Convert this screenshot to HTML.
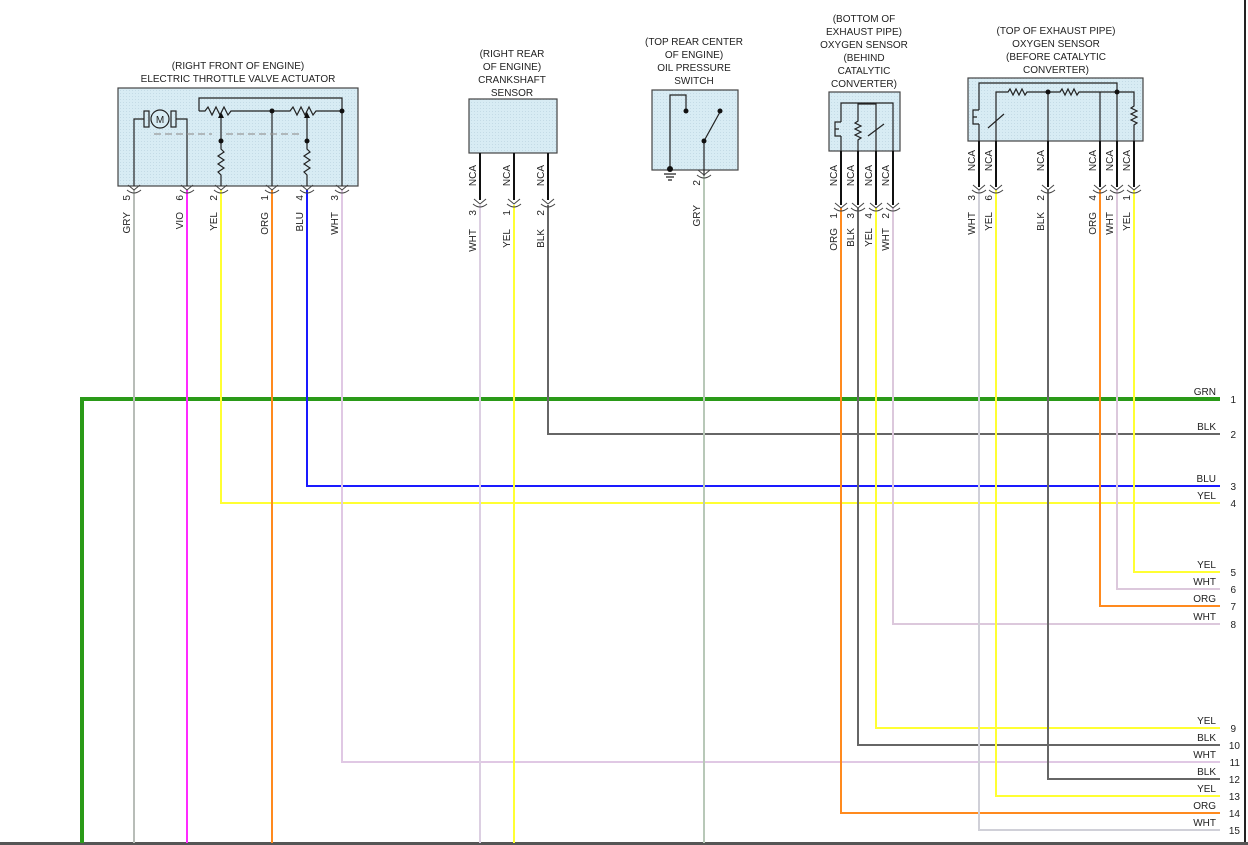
<!DOCTYPE html>
<html><head><meta charset="utf-8"><style>
html,body{margin:0;padding:0;background:#fff}
svg{display:block}
text{font-family:"Liberation Sans",sans-serif;font-size:10px;fill:#222}
</style></head><body>
<svg width="1248" height="845" viewBox="0 0 1248 845" xmlns="http://www.w3.org/2000/svg">
<defs>
<pattern id="dots" width="3" height="3" patternUnits="userSpaceOnUse"><rect width="3" height="3" fill="#d8ecf4"/><rect width="1" height="1" fill="#c4dbe6"/></pattern>
</defs>
<rect x="0" y="0" width="1248" height="845" fill="#fff"/>
<line x1="1245" y1="0" x2="1245" y2="845" stroke="#222" stroke-width="2"/>
<line x1="0" y1="843.5" x2="1248" y2="843.5" stroke="#555" stroke-width="3"/>

<!-- wires -->
<g fill="none" stroke-width="2">
<path d="M82 843V399H1220" stroke="#2a9a18" stroke-width="4"/>
<path d="M134 190V843" stroke="#b8bdb8"/>
<path d="M187 190V843" stroke="#ff2aff"/>
<path d="M221 190V503H1220" stroke="#ffff33"/>
<path d="M272 190V843" stroke="#ff8a1e"/>
<path d="M307 190V486H1220" stroke="#1a1aff"/>
<path d="M342 190V762H1220" stroke="#e0c8e4"/>
<path d="M480 205V843" stroke="#dccfe2"/>
<path d="M514 205V843" stroke="#ffff33"/>
<path d="M548 205V434H1220" stroke="#666"/>
<path d="M704 176V843" stroke="#b8c8b8"/>
<path d="M841 208V813H1220" stroke="#ff8a1e"/>
<path d="M858 208V745H1220" stroke="#666"/>
<path d="M876 208V728H1220" stroke="#ffff33"/>
<path d="M893 208V624H1220" stroke="#dcc8dc"/>
<path d="M979 190V830H1220" stroke="#d0d0d8"/>
<path d="M996 190V796H1220" stroke="#ffff33"/>
<path d="M1048 190V779H1220" stroke="#666"/>
<path d="M1100 190V606H1220" stroke="#ff8a1e"/>
<path d="M1117 190V589H1220" stroke="#dcc8dc"/>
<path d="M1134 190V572H1220" stroke="#ffff33"/>
</g>

<!-- right labels -->
<g text-anchor="end">
<text x="1216" y="395">GRN</text><text x="1236" y="403">1</text>
<text x="1216" y="430">BLK</text><text x="1236" y="438">2</text>
<text x="1216" y="482">BLU</text><text x="1236" y="490">3</text>
<text x="1216" y="499">YEL</text><text x="1236" y="507">4</text>
<text x="1216" y="568">YEL</text><text x="1236" y="576">5</text>
<text x="1216" y="585">WHT</text><text x="1236" y="593">6</text>
<text x="1216" y="602">ORG</text><text x="1236" y="610">7</text>
<text x="1216" y="620">WHT</text><text x="1236" y="628">8</text>
<text x="1216" y="724">YEL</text><text x="1236" y="732">9</text>
<text x="1216" y="741">BLK</text><text x="1240" y="749">10</text>
<text x="1216" y="758">WHT</text><text x="1240" y="766">11</text>
<text x="1216" y="775">BLK</text><text x="1240" y="783">12</text>
<text x="1216" y="792">YEL</text><text x="1240" y="800">13</text>
<text x="1216" y="809">ORG</text><text x="1240" y="817">14</text>
<text x="1216" y="826">WHT</text><text x="1240" y="834">15</text>
</g>

<!-- component titles -->
<g text-anchor="middle">
<text x="238" y="69">(RIGHT FRONT OF ENGINE)</text>
<text x="238" y="82">ELECTRIC THROTTLE VALVE ACTUATOR</text>
<text x="512" y="57">(RIGHT REAR</text>
<text x="512" y="70">OF ENGINE)</text>
<text x="512" y="83">CRANKSHAFT</text>
<text x="512" y="96">SENSOR</text>
<text x="694" y="45">(TOP REAR CENTER</text>
<text x="694" y="58">OF ENGINE)</text>
<text x="694" y="71">OIL PRESSURE</text>
<text x="694" y="84">SWITCH</text>
<text x="864" y="22">(BOTTOM OF</text>
<text x="864" y="35">EXHAUST PIPE)</text>
<text x="864" y="48">OXYGEN SENSOR</text>
<text x="864" y="61">(BEHIND</text>
<text x="864" y="74">CATALYTIC</text>
<text x="864" y="87">CONVERTER)</text>
<text x="1056" y="34">(TOP OF EXHAUST PIPE)</text>
<text x="1056" y="47">OXYGEN SENSOR</text>
<text x="1056" y="60">(BEFORE CATALYTIC</text>
<text x="1056" y="73">CONVERTER)</text>
</g>

<!-- boxes -->
<g stroke="#444" stroke-width="1.2" fill="url(#dots)">
<rect x="118" y="88" width="240" height="98"/>
<rect x="469" y="99" width="88" height="54"/>
<rect x="652" y="90" width="86" height="80"/>
<rect x="829" y="92" width="71" height="59"/>
<rect x="968" y="78" width="175" height="63"/>
</g>

<!-- throttle internals -->
<g fill="none" stroke="#222" stroke-width="1.2">
<path d="M134 186V119H144M176 119H187V186"/>
<rect x="144" y="111" width="5" height="16"/><rect x="171" y="111" width="5" height="16"/>
<path d="M199 111V98H342V186"/>
<path d="M199 111H205l3-4 4 8 4-8 4 8 4-8 4 8 3-4H272H290l3-4 4 8 4-8 4 8 4-8 4 8 3-4H342"/>
<path d="M272 111V186"/>
<path d="M221 116V149l3 3-6 4 6 4-6 4 6 4-6 4 3 3V186"/>
<path d="M307 116V149l3 3-6 4 6 4-6 4 6 4-6 4 3 3V186"/>
<path d="M154 134H212M226 134H300" stroke="#999" stroke-dasharray="7,4"/>
</g>
<circle cx="160" cy="119" r="9" fill="#d8ecf4" stroke="#222" stroke-width="1.2"/>
<text x="160" y="123" text-anchor="middle" font-size="12">M</text>
<g fill="#111">
<circle cx="272" cy="111" r="2.5"/><circle cx="342" cy="111" r="2.5"/>
<circle cx="221" cy="141" r="2.5"/><circle cx="307" cy="141" r="2.5"/>
<path d="M221 112l-3 6h6z"/><path d="M307 112l-3 6h6z"/>
</g>

<!-- oil switch internals -->
<g fill="none" stroke="#222" stroke-width="1.2">
<path d="M670 170V95H686V110"/><path d="M704 176V141L720 112"/>
<path d="M664 174h12M666 177h8M668 180h4"/>
</g>
<g fill="#111"><circle cx="686" cy="111" r="2.5"/><circle cx="720" cy="111" r="2.5"/><circle cx="704" cy="141" r="2.5"/><circle cx="670" cy="169" r="3"/></g>

<!-- bottom O2 internals -->
<g fill="none" stroke="#222" stroke-width="1.2">
<path d="M841 205V136M841 122V103H893V205"/>
<path d="M841 136h-6v-14h6M835 129h4"/>
<path d="M858 205V140l3-2-6-3 6-3-6-3 6-3-6-3 3-2V104H876V205"/>
<path d="M868 136l16-12"/>
</g>
<!-- top O2 internals -->
<g fill="none" stroke="#222" stroke-width="1.2">
<path d="M979 187V124M979 110V83H1117V187"/>
<path d="M979 124h-6v-14h6M973 117h4"/>
<path d="M996 187V92H1008l2-3 3 6 3-6 3 6 3-6 3 6 2-3H1060l2-3 3 6 3-6 3 6 3-6 3 6 2-3H1134V106l-3 2 6 3-6 3 6 3-6 3 6 3-3 2V187"/>
<path d="M1048 92V187M1100 92V187"/>
<path d="M988 128l16-14"/>
</g>
<g fill="#111"><circle cx="1048" cy="92" r="2.5"/><circle cx="1117" cy="92" r="2.5"/></g>

<!-- black NCA stubs -->
<g stroke="#111" stroke-width="2">
<path d="M480 153V200M514 153V200M548 153V200"/>
<path d="M841 151V205M858 151V205M876 151V205M893 151V205"/>
<path d="M979 141V187M996 141V187M1048 141V187M1100 141V187M1117 141V187M1134 141V187"/>
</g>

<!-- connector symbols -->
<g fill="none" stroke="#444" stroke-width="1">
<path d="M128 185l6 5 6-5M127 190q7 6 14 0M181 185l6 5 6-5M180 190q7 6 14 0M215 185l6 5 6-5M214 190q7 6 14 0M266 185l6 5 6-5M265 190q7 6 14 0M301 185l6 5 6-5M300 190q7 6 14 0M336 185l6 5 6-5M335 190q7 6 14 0"/>
<path d="M474 199l6 5 6-5M473 204q7 6 14 0M508 199l6 5 6-5M507 204q7 6 14 0M542 199l6 5 6-5M541 204q7 6 14 0"/>
<path d="M698 170l6 5 6-5M697 175q7 6 14 0"/>
<path d="M835 203l6 5 6-5M834 208q7 6 14 0M852 203l6 5 6-5M851 208q7 6 14 0M870 203l6 5 6-5M869 208q7 6 14 0M887 203l6 5 6-5M886 208q7 6 14 0"/>
<path d="M973 185l6 5 6-5M972 190q7 6 14 0M990 185l6 5 6-5M989 190q7 6 14 0M1042 185l6 5 6-5M1041 190q7 6 14 0M1094 185l6 5 6-5M1093 190q7 6 14 0M1111 185l6 5 6-5M1110 190q7 6 14 0M1128 185l6 5 6-5M1127 190q7 6 14 0"/>
</g>

<!-- rotated labels -->
<g text-anchor="end">
<!-- throttle -->
<text transform="translate(130,195) rotate(-90)">5</text><text transform="translate(130,212) rotate(-90)">GRY</text>
<text transform="translate(183,195) rotate(-90)">6</text><text transform="translate(183,212) rotate(-90)">VIO</text>
<text transform="translate(217,195) rotate(-90)">2</text><text transform="translate(217,212) rotate(-90)">YEL</text>
<text transform="translate(268,195) rotate(-90)">1</text><text transform="translate(268,212) rotate(-90)">ORG</text>
<text transform="translate(303,195) rotate(-90)">4</text><text transform="translate(303,212) rotate(-90)">BLU</text>
<text transform="translate(338,195) rotate(-90)">3</text><text transform="translate(338,212) rotate(-90)">WHT</text>
<!-- crank -->
<text transform="translate(476,165) rotate(-90)">NCA</text><text transform="translate(510,165) rotate(-90)">NCA</text><text transform="translate(544,165) rotate(-90)">NCA</text>
<text transform="translate(476,210) rotate(-90)">3</text><text transform="translate(476,229) rotate(-90)">WHT</text>
<text transform="translate(510,210) rotate(-90)">1</text><text transform="translate(510,229) rotate(-90)">YEL</text>
<text transform="translate(544,210) rotate(-90)">2</text><text transform="translate(544,229) rotate(-90)">BLK</text>
<!-- oil -->
<text transform="translate(700,180) rotate(-90)">2</text><text transform="translate(700,205) rotate(-90)">GRY</text>
<!-- bottom O2 -->
<text transform="translate(837,165) rotate(-90)">NCA</text><text transform="translate(854,165) rotate(-90)">NCA</text><text transform="translate(872,165) rotate(-90)">NCA</text><text transform="translate(889,165) rotate(-90)">NCA</text>
<text transform="translate(837,213) rotate(-90)">1</text><text transform="translate(837,228) rotate(-90)">ORG</text>
<text transform="translate(854,213) rotate(-90)">3</text><text transform="translate(854,228) rotate(-90)">BLK</text>
<text transform="translate(872,213) rotate(-90)">4</text><text transform="translate(872,228) rotate(-90)">YEL</text>
<text transform="translate(889,213) rotate(-90)">2</text><text transform="translate(889,228) rotate(-90)">WHT</text>
<!-- top O2 -->
<text transform="translate(975,150) rotate(-90)">NCA</text><text transform="translate(992,150) rotate(-90)">NCA</text><text transform="translate(1044,150) rotate(-90)">NCA</text><text transform="translate(1096,150) rotate(-90)">NCA</text><text transform="translate(1113,150) rotate(-90)">NCA</text><text transform="translate(1130,150) rotate(-90)">NCA</text>
<text transform="translate(975,195) rotate(-90)">3</text><text transform="translate(975,212) rotate(-90)">WHT</text>
<text transform="translate(992,195) rotate(-90)">6</text><text transform="translate(992,212) rotate(-90)">YEL</text>
<text transform="translate(1044,195) rotate(-90)">2</text><text transform="translate(1044,212) rotate(-90)">BLK</text>
<text transform="translate(1096,195) rotate(-90)">4</text><text transform="translate(1096,212) rotate(-90)">ORG</text>
<text transform="translate(1113,195) rotate(-90)">5</text><text transform="translate(1113,212) rotate(-90)">WHT</text>
<text transform="translate(1130,195) rotate(-90)">1</text><text transform="translate(1130,212) rotate(-90)">YEL</text>
</g>
</svg>
</body></html>
